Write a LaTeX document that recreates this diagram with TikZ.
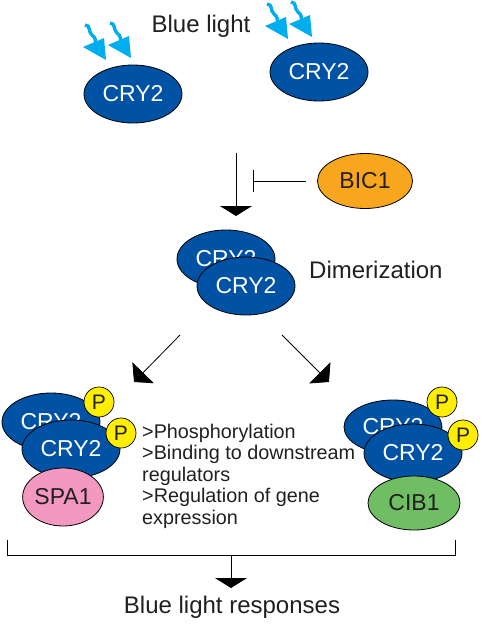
\documentclass[tikz,border=0pt]{standalone}
\usepackage{fontspec}
\setmainfont{Liberation Sans}
\usetikzlibrary{shapes.geometric,arrows.meta}
\definecolor{cryblue}{RGB}{0,82,164}
\definecolor{lightarrowblue}{RGB}{0,174,239}
\definecolor{bicorange}{RGB}{247,166,30}
\definecolor{spapink}{RGB}{243,152,192}
\definecolor{cibgreen}{RGB}{112,190,100}
\definecolor{pyellow}{RGB}{255,238,0}
\definecolor{textdark}{RGB}{35,31,32}
\begin{document}
\begin{tikzpicture}[x=1pt,y=-1pt,
  blob/.style={ellipse,draw=black,line width=0.8pt,inner sep=0pt,
    font=\fontsize{23}{26}\selectfont},
  cry/.style={blob,fill=cryblue,text=white,minimum width=98pt,minimum height=58pt},
  partner/.style={blob,text=textdark},
  phos/.style={circle,draw=black,line width=0.7pt,fill=pyellow,text=textdark,
    minimum size=30pt,inner sep=0pt,font=\fontsize{21}{24}\selectfont},
  label/.style={text=textdark,inner sep=0pt,font=\fontsize{24}{28}\selectfont},
  flow/.style={draw=black,line width=0.8pt},
  bigtip/.style={flow,-{Triangle[width=32pt,length=10pt]}},
  diagtip/.style={flow,-{Triangle[width=30pt,length=13pt]}},
  inhib/.style={flow,-{Bar[width=22pt,line width=0.8pt]}},
  lighttail/.style={draw=lightarrowblue,line width=3.4pt},
  lighthead/.style={fill=lightarrowblue},
  bluelight/.pic={
    \draw[lighttail] (0,0) .. controls (6,0) and (3,7) .. (7,10)
      .. controls (11,13) and (10,15) .. (11,20);
    \fill[lighthead] (-2,22) -- (19,13) -- (21,35) -- cycle;}
]
\useasboundingbox (0,0) rectangle (500,624);

% top
\node[label,anchor=base] (bl) at (201,32) {Blue light};
\node[cry] (cryA) at (133,94) {CRY2};
\node[cry] (cryB) at (319,72) {CRY2};
\pic at (85,25) {bluelight};
\pic at (110,23) {bluelight};
\pic at (267,4) {bluelight};
\pic at (291,2) {bluelight};

% inhibition
\coordinate (v1) at (236,153);
\coordinate (v2) at (236,216);
\draw[bigtip] (v1) -- (v2);
\node[partner,fill=bicorange,minimum width=95pt,minimum height=55pt] (bic) at (365,181) {BIC1};
\coordinate (inh) at (253,181);
\draw[inhib] ([xshift=-11pt]bic.west) -- (inh);

% dimer
\node[cry] (dback) at (226,259) {CRY2};
\node[cry] (dfront) at (246,286) {CRY2};
\node[label,anchor=base west] (dim) at (309,278) {Dimerization};

% diagonal arrows
\coordinate (l1) at (180,335);
\coordinate (l2) at (134,382);
\coordinate (r1) at (282,335);
\coordinate (r2) at (329,382);
\draw[diagtip] (l1) -- (l2);
\draw[diagtip] (r1) -- (r2);

% left complex
\node[cry] (lback) at (51,422) {CRY2};
\node[phos] (lp1) at (99,402) {P};
\node[cry] (lfront) at (71,449) {CRY2};
\node[phos] (lp2) at (121,433) {P};
\node[partner,fill=spapink,minimum width=80pt,minimum height=58pt] (spa) at (63,497) {SPA1};

% right complex
\node[cry,minimum height=54pt] (rback) at (393,427) {CRY2};
\node[phos] (rp1) at (442,402) {P};
\node[cry] (rfront) at (413,453) {CRY2};
\node[phos] (rp2) at (463,435) {P};
\node[partner,fill=cibgreen,minimum width=92pt,minimum height=54pt] (cib) at (414,503) {CIB1};

% text block
\node[text=textdark,inner sep=0pt,anchor=north west,align=left,
  font=\fontsize{19.8}{21.4}\selectfont] (notes) at (142,424)
  {>Phosphorylation\\>Binding to downstream\\regulators\\>Regulation of gene\\expression};

% bracket
\coordinate (bl1) at (7,540);
\coordinate (bl2) at (7,555);
\coordinate (br1) at (455,540);
\coordinate (br2) at (455,555);
\coordinate (bm) at (231,555);
\coordinate (bt) at (231,588);
\draw[flow] (bl1) -- (bl2) -- (br2) -- (br1);
\draw[bigtip] (bm) -- (bt);
\node[label,anchor=base] (resp) at (232,613) {Blue light responses};
\end{tikzpicture}
\end{document}
